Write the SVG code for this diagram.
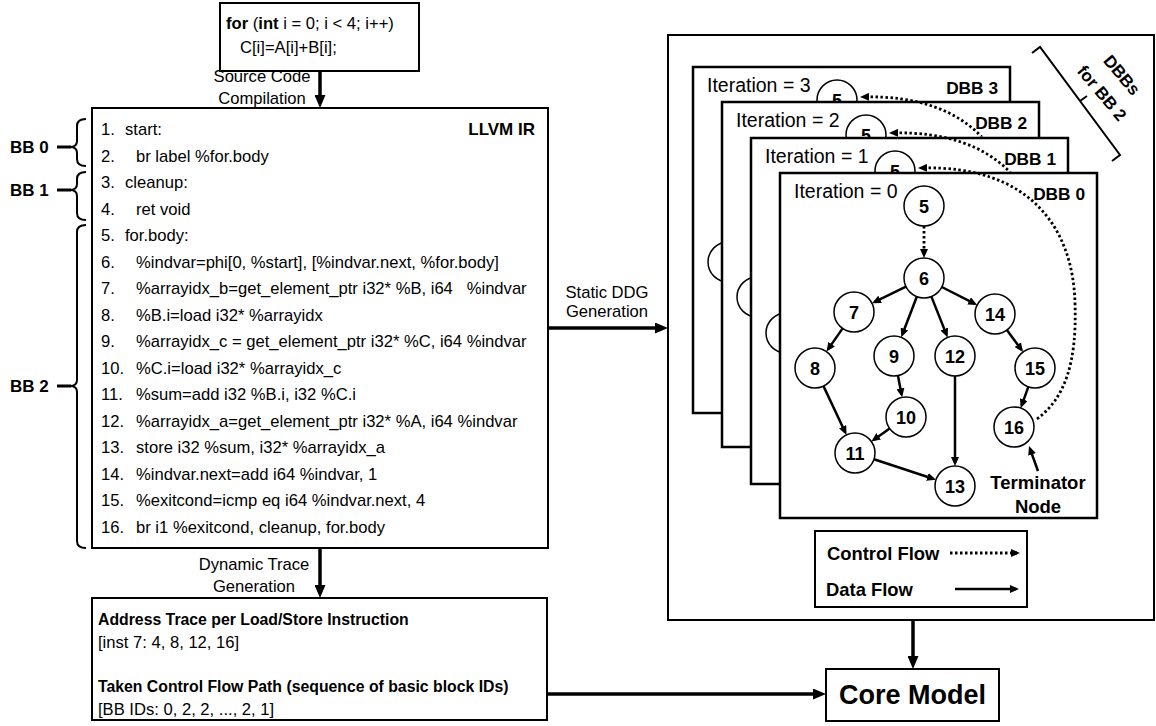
<svg xmlns="http://www.w3.org/2000/svg" width="1156" height="726" viewBox="0 0 1156 726">
<style>
text { font-family: "Liberation Sans", Arial, sans-serif; fill: #000; }
.t { font-size: 16.6px; }
.b { font-weight: bold; }
.lbl { font-size: 17px; font-weight: bold; }
.box { fill: #fff; stroke: #000; stroke-width: 2; }
.dbb { fill: #fff; stroke: #000; stroke-width: 2.5; }
.it { font-size: 19.5px; }
.dl { font-size: 17.3px; font-weight: bold; text-anchor: end; }
.node circle, circle.nc { fill: #fff; stroke: #000; stroke-width: 1.5; }
.node text, text.nt { font-size: 18px; font-weight: bold; text-anchor: middle; }
.edge { stroke: #000; stroke-width: 2.5; fill: none; marker-end: url(#ha); }
.ctrl { stroke: #000; stroke-width: 2.8; fill: none; stroke-dasharray: 2.5 2.5; marker-end: url(#ha); }
.main { stroke: #000; stroke-width: 3.5; fill: none; marker-end: url(#hm); }
.brace { fill: none; stroke: #000; stroke-width: 2; }
</style>
<defs>
<marker id="hm" viewBox="0 0 13 11" refX="7" refY="5.5" markerWidth="13" markerHeight="11" orient="auto" markerUnits="userSpaceOnUse"><path d="M0,0 L13,5.5 L0,11 z" fill="#000"/></marker>
<marker id="ha" viewBox="0 0 9 8" refX="6" refY="4" markerWidth="9" markerHeight="8" orient="auto" markerUnits="userSpaceOnUse"><path d="M0,0 L9,4 L0,8 z" fill="#000"/></marker>
<clipPath id="clipA"><rect x="660" y="0" width="500" height="171.5"/></clipPath>
<clipPath id="clipB"><rect x="660" y="0" width="500" height="136.5"/></clipPath>
</defs>

<!-- Source code -->
<g id="source">
<rect class="box" x="220" y="3" width="199" height="68"/>
<text class="t" x="226" y="29"><tspan class="b">for</tspan> (<tspan class="b">int</tspan> i = 0; i &lt; 4; i++)</text>
<text class="t" x="240" y="53">C[i]=A[i]+B[i];</text>
</g>

<g id="labels">
<text class="t" x="262" y="82" text-anchor="middle">Source Code</text>
<text class="t" x="262" y="104" text-anchor="middle">Compilation</text>
<text class="t" x="607" y="298" text-anchor="middle">Static DDG</text>
<text class="t" x="607" y="317" text-anchor="middle">Generation</text>
<text class="t" x="254" y="570" text-anchor="middle">Dynamic Trace</text>
<text class="t" x="254" y="592" text-anchor="middle">Generation</text>
</g>

<!-- LLVM IR -->
<g id="llvm">
<rect class="box" x="92" y="108" width="456" height="440"/>
<text class="lbl" x="535" y="135" text-anchor="end">LLVM IR</text>
<g class="t">
<text class="t" x="101" y="135">1.</text><text class="t" x="125" y="135">start:</text>
<text class="t" x="101" y="161.5">2.</text><text class="t" x="136" y="161.5">br label %for.body</text>
<text class="t" x="101" y="188">3.</text><text class="t" x="125" y="188">cleanup:</text>
<text class="t" x="101" y="214.6">4.</text><text class="t" x="136" y="214.6">ret void</text>
<text class="t" x="101" y="241.1">5.</text><text class="t" x="125" y="241.1">for.body:</text>
<text class="t" x="101" y="267.7">6.</text><text class="t" x="136" y="267.7">%indvar=phi[0, %start], [%indvar.next, %for.body]</text>
<text class="t" x="101" y="294.2">7.</text><text class="t" x="136" y="294.2">%arrayidx_b=get_element_ptr i32* %B, i64&#160;&#160; %indvar</text>
<text class="t" x="101" y="320.7">8.</text><text class="t" x="136" y="320.7">%B.i=load i32* %arrayidx</text>
<text class="t" x="101" y="347.2">9.</text><text class="t" x="136" y="347.2">%arrayidx_c = get_element_ptr i32* %C, i64 %indvar</text>
<text class="t" x="101" y="373.8">10.</text><text class="t" x="136" y="373.8">%C.i=load i32* %arrayidx_c</text>
<text class="t" x="101" y="400.3">11.</text><text class="t" x="136" y="400.3">%sum=add i32 %B.i, i32 %C.i</text>
<text class="t" x="101" y="426.8">12.</text><text class="t" x="136" y="426.8">%arrayidx_a=get_element_ptr i32* %A, i64 %indvar</text>
<text class="t" x="101" y="453.4">13.</text><text class="t" x="136" y="453.4">store i32 %sum, i32* %arrayidx_a</text>
<text class="t" x="101" y="479.9">14.</text><text class="t" x="136" y="479.9">%indvar.next=add i64 %indvar, 1</text>
<text class="t" x="101" y="506.4">15.</text><text class="t" x="136" y="506.4">%exitcond=icmp eq i64 %indvar.next, 4</text>
<text class="t" x="101" y="533">16.</text><text class="t" x="136" y="533">br i1 %exitcond, cleanup, for.body</text>
</g>
</g>

<!-- Basic block braces -->
<g id="bb0">
<path class="brace" d="M86,119 Q77,119 77,126 L77,141 Q77,147 70,147 Q77,147 77,153 L77,159 Q77,166 86,166"/>
<line x1="57" y1="147" x2="71" y2="147" stroke="#000" stroke-width="3"/>
<text class="lbl" x="10" y="153">BB 0</text>
</g>
<g id="bb1">
<path class="brace" d="M86,172 Q77,172 77,179 L77,184 Q77,190 70,190 Q77,190 77,196 L77,213 Q77,220 86,220"/>
<line x1="57" y1="190" x2="71" y2="190" stroke="#000" stroke-width="3"/>
<text class="lbl" x="10" y="196">BB 1</text>
</g>
<g id="bb2">
<path class="brace" d="M86,225 Q77,225 77,232 L77,380 Q77,386 70,386 Q77,386 77,392 L77,541 Q77,548 86,548"/>
<line x1="57" y1="386" x2="71" y2="386" stroke="#000" stroke-width="3"/>
<text class="lbl" x="10" y="392">BB 2</text>
</g>

<!-- Trace box -->
<g id="trace">
<rect class="box" x="92" y="598" width="455" height="122"/>
<text x="98" y="625" font-size="15.8" font-weight="bold">Address Trace per Load/Store Instruction</text>
<text class="t" x="98" y="648">[inst 7: 4, 8, 12, 16]</text>
<text x="98" y="692" font-size="15.8" font-weight="bold">Taken Control Flow Path (sequence of basic block IDs)</text>
<text class="t" x="98" y="715">[BB IDs: 0, 2, 2, ..., 2, 1]</text>
</g>

<!-- Core model -->
<g id="core">
<rect class="box" x="826" y="669" width="173" height="52"/>
<text x="912.5" y="704" font-size="27" font-weight="bold" text-anchor="middle">Core Model</text>
</g>

<!-- Static DDG outer box -->
<g id="ddg">
<rect class="box" x="668" y="35" width="486" height="585"/>
<path class="brace" d="M1032,53 L1040,47 L1120,155 L1112,161 M1080,101 L1087,96"/>
<text class="lbl" transform="translate(1122,75) rotate(50)" y="6" text-anchor="middle">DBBs</text>
<text class="lbl" transform="translate(1102,93) rotate(50)" y="6" text-anchor="middle">for BB 2</text>
</g>

<g id="dbb3" transform="translate(693,67)">
<rect class="dbb" width="317" height="346"/>
<text class="it" x="14" y="25">Iteration = 3</text>
<text class="dl" x="305" y="27">DBB 3</text>
<circle class="nc" cx="144" cy="33" r="20"/><text class="nt" x="144" y="39.5">5</text>
<circle class="nc" cx="35" cy="195" r="20"/>
</g>
<g id="dbb2" transform="translate(722,102)">
<rect class="dbb" width="317" height="345"/>
<text class="it" x="14" y="25">Iteration = 2</text>
<text class="dl" x="305" y="27">DBB 2</text>
<circle class="nc" cx="144" cy="33" r="20"/><text class="nt" x="144" y="39.5">5</text>
<circle class="nc" cx="35" cy="195" r="20"/>
</g>
<g id="dbb1" transform="translate(751,138)">
<rect class="dbb" width="317" height="346"/>
<text class="it" x="14" y="25">Iteration = 1</text>
<text class="dl" x="305" y="27">DBB 1</text>
<circle class="nc" cx="144" cy="33" r="20"/><text class="nt" x="144" y="39.5">5</text>
<circle class="nc" cx="35" cy="195" r="20"/>
</g>
<g id="dbb0">
<rect class="dbb" x="780" y="173" width="317" height="345"/>
<text class="it" x="794" y="198">Iteration = 0</text>
<text class="dl" x="1085" y="200">DBB 0</text>
<text x="1038" y="488.5" font-size="18.5" font-weight="bold" text-anchor="middle">Terminator</text>
<text x="1038" y="513" font-size="18.5" font-weight="bold" text-anchor="middle">Node</text>
</g>
<g id="node5" class="node"><circle cx="924" cy="206" r="20"/><text x="924" y="212.5">5</text></g>
<g id="node6" class="node"><circle cx="924" cy="278" r="20"/><text x="924" y="284.5">6</text></g>
<g id="node7" class="node"><circle cx="854" cy="312" r="20"/><text x="854" y="318.5">7</text></g>
<g id="node8" class="node"><circle cx="815" cy="368" r="20"/><text x="815" y="374.5">8</text></g>
<g id="node9" class="node"><circle cx="894" cy="356" r="20"/><text x="894" y="362.5">9</text></g>
<g id="node10" class="node"><circle cx="906" cy="417" r="20"/><text x="906" y="423.5">10</text></g>
<g id="node11" class="node"><circle cx="855" cy="453" r="20"/><text x="855" y="459.5">11</text></g>
<g id="node12" class="node"><circle cx="955" cy="356" r="20"/><text x="955" y="362.5">12</text></g>
<g id="node13" class="node"><circle cx="955" cy="486" r="20"/><text x="955" y="492.5">13</text></g>
<g id="node14" class="node"><circle cx="995" cy="314" r="20"/><text x="995" y="320.5">14</text></g>
<g id="node15" class="node"><circle cx="1035" cy="368" r="20"/><text x="1035" y="374.5">15</text></g>
<g id="node16" class="node"><circle cx="1014" cy="427" r="20"/><text x="1014" y="433.5">16</text></g>

<!-- Legend -->
<g id="legend">
<rect class="box" x="815" y="531" width="212" height="76"/>
<text x="827" y="559.5" font-size="18.4" font-weight="bold">Control Flow</text>
<text x="826" y="595.5" font-size="18.4" font-weight="bold">Data Flow</text>
</g>

<g id="connectors">
<path class="main" d="M320,71 L320,102"/>
<path class="main" d="M320,548 L320,592"/>
<path class="main" d="M548,328 L662,328"/>
<path class="main" d="M547,694 L820,694"/>
<path class="main" d="M913,620 L913,663"/>
<path class="ctrl" d="M924,226 L924,255"/>
<path class="edge" d="M906,286.7 L874.7,301.9"/>
<path class="edge" d="M916.8,296.7 L902.3,334.5"/>
<path class="edge" d="M931.4,296.6 L946.5,334.6"/>
<path class="edge" d="M941.8,287 L974.5,303.6"/>
<path class="edge" d="M842.6,328.4 L828.2,349.1"/>
<path class="edge" d="M823.5,386.1 L845.2,432.2"/>
<path class="edge" d="M897.9,375.6 L901.6,394.4"/>
<path class="edge" d="M889.7,428.5 L873.8,439.7"/>
<path class="edge" d="M955,376 L955,463"/>
<path class="edge" d="M874,459.3 L933.1,478.8"/>
<path class="edge" d="M1006.9,330.1 L1021.3,349.5"/>
<path class="edge" d="M1028.3,386.8 L1021.7,405.3"/>
<path class="edge" d="M1038,471 L1030,448.8"/>
<path class="ctrl" clip-path="url(#clipB)" d="M979,348 C1007,327 1019,292 1017,232 C1015,157 972,94 863,97"/>
<path class="ctrl" clip-path="url(#clipA)" d="M1008,384 C1036,363 1048,328 1046,268 C1044,193 1001,130 892,133"/>
<path class="ctrl" d="M1037,419 C1065,398 1077,363 1075,303 C1073,228 1030,165 921,168"/>
<path class="ctrl" stroke-width="2" stroke-dasharray="2 2.5" d="M950,553 L1017,553"/>
<path class="edge" stroke-width="2" d="M955,589 L1016,589"/>
</g>
</svg>
